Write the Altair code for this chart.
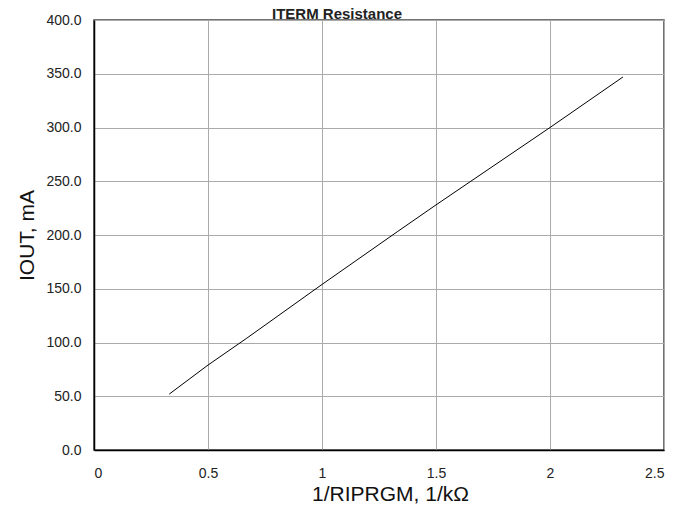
import altair as alt
import pandas as pd

x_vals = [0.33, 0.50, 0.67, 1.00, 1.33, 1.50, 2.00, 2.32]
y_vals = [52.0, 79.0, 104.0, 154.0, 203.0, 228.0, 300.0, 347.0]
x_ticks = [0, 0.5, 1, 1.5, 2, 2.5]
y_ticks = [0, 50, 100, 150, 200, 250, 300, 350, 400]
title_text = ["ITERM Resistance"]

df = pd.DataFrame({"x": x_vals, "y": y_vals})
tdf = pd.DataFrame({"t": title_text})
FONT = "Liberation Sans"

line = alt.Chart(df).mark_line(color="black", strokeWidth=1).encode(
    x=alt.X("x:Q", scale=alt.Scale(domain=[0, 2.5], nice=False, zero=False),
            axis=alt.Axis(values=x_ticks, title="1/RIPRGM, 1/kΩ", format="~g",
                          labelPadding=16, titlePadding=3, titleX=296, titleAlign="center")),
    y=alt.Y("y:Q", scale=alt.Scale(domain=[0, 400], nice=False),
            axis=alt.Axis(values=y_ticks, title="IOUT, mA", format=".1f",
                          labelPadding=13, titlePadding=8)),
)

title = alt.Chart(tdf).mark_text(
    font=FONT, fontSize=15, fontWeight="bold", color="#222",
    align="center", baseline="alphabetic",
).encode(text="t:N", x=alt.value(243), y=alt.value(-1))

chart = alt.layer(line, title).properties(
    width=570, height=430,
    autosize=alt.AutoSizeParams(type="none"),
    padding={"left": 86, "top": 12, "right": 18, "bottom": 54},
).configure_view(stroke="#444", strokeWidth=1.5).configure_axis(
    labelFont=FONT, titleFont=FONT, labelFontSize=14, titleFontSize=21,
    labelColor="#222", titleColor="#111", titleFontWeight="normal",
    grid=True, gridColor="#aaaaaa", gridWidth=1, ticks=False,
    domainColor="black", domainWidth=1.5,
)

chart.save("out.html", embed_options={"renderer": "svg", "actions": False})
